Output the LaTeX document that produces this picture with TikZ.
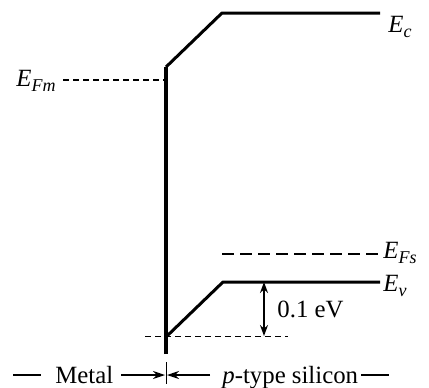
\documentclass[tikz,border=0pt]{standalone}
\usepackage{fontspec}
\setmainfont{Liberation Serif}
\usetikzlibrary{arrows.meta}
\newcommand{\lvl}[2]{\textit{E}\raisebox{-0.45ex}{\fontsize{9}{10}\selectfont\textit{#2}}}
\begin{document}
\begin{tikzpicture}[x=0.5pt,y=-0.5pt,
  band/.style={line width=1.5pt,line join=round},
  metalline/.style={line width=1.8pt},
  fermim/.style={line width=0.6pt,dash pattern=on 3pt off 2pt},
  fermis/.style={line width=1.3pt,dash pattern=on 6pt off 3pt},
  thinref/.style={line width=0.5pt,dash pattern=on 3pt off 2pt},
  lbl/.style={inner sep=0pt,anchor=base west,font=\fontsize{12.4}{14}\selectfont},
  tip/.style={-{Stealth[length=6pt,width=4pt]},line width=0.7pt},
  dtip/.style={{Stealth[length=5.5pt,width=4pt]}-{Stealth[length=5.5pt,width=4pt]},line width=0.7pt}]
\useasboundingbox (0,0) rectangle (429,387);
% coordinates
\coordinate (itop) at (166,67);
\coordinate (ibot) at (166,354);
\coordinate (ec1) at (222,13);
\coordinate (ec2) at (380,13);
\coordinate (ev0) at (167,336);
\coordinate (ev1) at (223,282);
\coordinate (ev2) at (380,282);
\coordinate (efm0) at (63,80);
\coordinate (efm1) at (166,80);
\coordinate (efs0) at (222,254);
\coordinate (efs1) at (380,254);
\coordinate (ref0) at (145,336);
\coordinate (ref1) at (288,336);
\coordinate (dv0) at (264,282);
\coordinate (dv1) at (264,336);
% bands
\draw[band] (itop) -- (ec1) -- (ec2);
\draw[metalline] (ibot) -- (itop);
\draw[band] (ev0) -- (ev1) -- (ev2);
\draw[fermim] (efm0) -- (efm1);
\draw[fermis] (efs0) -- (efs1);
\draw[thinref] (ref0) -- (ref1);
\draw[dtip] (dv0) -- (dv1);
% labels
\node[lbl] (lec) at (388,32) {\lvl{E}{c}};
\node[lbl] (lefm) at (16,86) {\lvl{E}{Fm}};
\node[lbl] (lefs) at (383,258) {\lvl{E}{Fs}};
\node[lbl] (lev) at (383,291) {\lvl{E}{v}};
\node[lbl] (ldv) at (277,317) {0.1 eV};
% bottom axis
\node[lbl] (metal) at (55,383) {Metal};
\node[lbl] (psi) at (222,383) {\textit{p}-type silicon};
\coordinate (d1a) at (13,375);
\coordinate (d1b) at (41,375);
\coordinate (d2a) at (361,375);
\coordinate (d2b) at (389,375);
\draw[line width=0.6pt] (d1a) -- (d1b);
\draw[line width=0.6pt] (d2a) -- (d2b);
\coordinate (tk0) at (166,362);
\coordinate (tk1) at (166,384);
\draw[line width=0.5pt] (tk0) -- (tk1);
\coordinate (a1s) at (121,375);
\coordinate (a1e) at (165,375);
\coordinate (a2s) at (210,375);
\coordinate (a2e) at (167,375);
\draw[tip] (a1s) -- (a1e);
\draw[tip] (a2s) -- (a2e);
\end{tikzpicture}
\end{document}
